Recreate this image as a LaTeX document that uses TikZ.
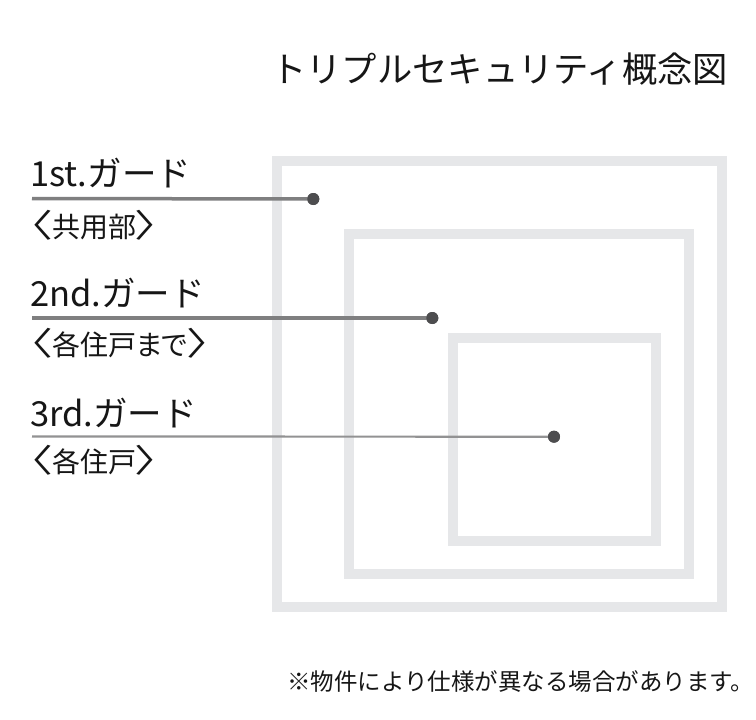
\documentclass[tikz,border=0pt]{standalone}
\usepackage{fontspec}
\setmainfont{Noto Sans CJK JP}
\newfontfamily\jpp[RawFeature=+palt]{Noto Sans CJK JP}
\definecolor{sqc}{HTML}{E6E7E9}
\definecolor{lnc}{HTML}{7F7F80}
\definecolor{dotc}{HTML}{4D4D4F}
\definecolor{txtc}{HTML}{161616}
\newcommand\lbrk{\raisebox{-0.5pt}{\scalebox{1.6}[1.15]{〈}}}
\newcommand\rbrk{\raisebox{-0.5pt}{\scalebox{1.6}[1.15]{〉}}}
\begin{document}
\begin{tikzpicture}[x=1pt,y=-1pt,
  frame/.style={draw=sqc,line width=10.7pt},
  lbl/.style={inner sep=0pt,anchor=base west,text=txtc,font=\fontsize{34.5}{34.5}\selectfont},
  sub/.style={inner sep=0pt,anchor=base west,text=txtc,font=\jpp\fontsize{28}{28}\selectfont},
  title/.style={inner sep=0pt,anchor=base west,text=txtc,font=\fontsize{35.3}{35.3}\selectfont},
  note/.style={inner sep=0pt,anchor=base west,text=txtc,font=\fontsize{23.5}{23.5}\selectfont},
  dotn/.style={circle,fill=dotc,inner sep=0pt,minimum size=12pt},
  lead/.style={draw=lnc,line width=3.5pt},
  leadthin/.style={draw=lnc!85,line width=2.2pt}]
\useasboundingbox (0,0) rectangle (756,720);
\fill[white] (0,0) rectangle (756,720);
% squares
\draw[frame] (277,161) rectangle (722,607);
\draw[frame] (349,234) rectangle (689,574);
\draw[frame] (453,338) rectangle (656,541);
% title and note
\node[title] (t) at (271,82) {トリプルセキュリティ概念図};
\node[note] (n) at (287,690.5) {※物件により仕様が異なる場合があります。};
% labels
\node[lbl] (l1) at (30,186.5) {1st.ガード};
\node[sub] (s1) at (29.5,237.3) {\lbrk 共用部\rbrk};
\node[lbl] (l2) at (30,306) {2nd.ガード};
\node[sub] (s2) at (29.5,355) {\lbrk 各住戸まで\rbrk};
\node[lbl] (l3) at (30,426) {3rd.ガード};
\node[sub] (s3) at (29.5,472) {\lbrk 各住戸\rbrk};
% dots and leaders
\coordinate (a1) at (32,198.5);
\coordinate (a2) at (32,318);
\coordinate (a3) at (32,436.5);
\node[dotn] (d1) at (313.3,199) {};
\node[dotn] (d2) at (432.3,318) {};
\node[dotn] (d3) at (554,436.7) {};
\draw[lead] (a1) -- (d1.center);
\draw[lead] (a2) -- (d2.center);
\draw[leadthin] (a3) -- (d3.center);
\node[dotn] at (d1) {};
\node[dotn] at (d2) {};
\node[dotn] at (d3) {};
\end{tikzpicture}
\end{document}
